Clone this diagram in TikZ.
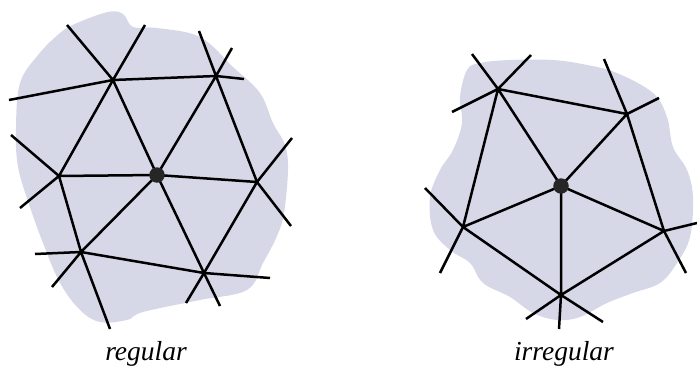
\documentclass[tikz,border=0pt]{standalone}
\usepackage{fontspec}
\setmainfont{Liberation Serif}
\definecolor{blob}{RGB}{214,216,232}
\begin{document}
\begin{tikzpicture}[x=1pt,y=-1pt,
  edge/.style={line width=2.5pt, line cap=butt},
  centre/.style={circle, fill=black!85, minimum size=15.5pt, inner sep=0pt},
  lbl/.style={font=\fontsize{27.5}{32}\selectfont\itshape, inner sep=0pt}]
\useasboundingbox (0,0) rectangle (697,372);
% blobs
\fill[blob] plot[smooth cycle, tension=0.6] coordinates {
 (60,33) (77,23) (108,12) (123,14) (133,27) (157,28) (200,37) (233,67)
 (260,93) (273,123) (285,145) (288,170) (284,213) (277,236) (263,263)
 (247,290) (200,300) (143,312) (127,320) (100,322) (80,310) (60,283)
 (43,243) (30,207) (18,167) (16,127) (20,83) (38,55)};
\fill[blob] plot[smooth cycle, tension=0.6] coordinates {
 (467,70) (480,63) (510,60) (553,60) (587,65) (617,73) (653,93) (667,117)
 (673,147) (687,170) (693,197) (690,237) (677,263) (660,283) (633,293)
 (607,303) (580,317) (557,320) (533,313) (510,297) (483,283) (470,263)
 (450,250) (433,230) (430,197) (440,170) (453,150) (462,123) (460,97)};
% regular mesh vertices
\coordinate (A) at (113,80);
\coordinate (B) at (216,76);
\coordinate (C) at (59,176);
\coordinate (D) at (157,175);
\coordinate (E) at (257,182);
\coordinate (F) at (81,252);
\coordinate (G) at (204,273);
% free ends
\coordinate (a1) at (67,25);
\coordinate (a2) at (145,25);
\coordinate (a3) at (9,100);
\coordinate (b1) at (199,31);
\coordinate (b2) at (232,48);
\coordinate (b3) at (244,79);
\coordinate (c1) at (11,135);
\coordinate (c2) at (20,208);
\coordinate (e1) at (292,138);
\coordinate (e2) at (291,226);
\coordinate (f1) at (35,254);
\coordinate (f2) at (52,287);
\coordinate (f3) at (110,329);
\coordinate (g1) at (186,303);
\coordinate (g2) at (220,306);
\coordinate (g3) at (270,278);
\draw[edge] (A)--(B) (A)--(C) (A)--(D) (B)--(D) (B)--(E) (C)--(D) (D)--(E)
  (C)--(F) (D)--(F) (D)--(G) (E)--(G) (F)--(G);
\draw[edge] (A)--(a1) (A)--(a2) (A)--(a3) (B)--(b1) (B)--(b2) (B)--(b3)
  (C)--(c1) (C)--(c2) (E)--(e1) (E)--(e2) (F)--(f1) (F)--(f2) (F)--(f3)
  (G)--(g1) (G)--(g2) (G)--(g3);
\node[centre] (Dn) at (D) {};
% irregular mesh vertices
\coordinate (P) at (498,89);
\coordinate (Q) at (627,114);
\coordinate (R) at (463,227);
\coordinate (S) at (561,186);
\coordinate (T) at (664,231);
\coordinate (U) at (561,295);
\coordinate (p1) at (472,54);
\coordinate (p2) at (531,55);
\coordinate (p3) at (452,112);
\coordinate (q1) at (604,59);
\coordinate (q2) at (659,98);
\coordinate (r1) at (425,188);
\coordinate (r2) at (440,273);
\coordinate (t1) at (697,223);
\coordinate (t2) at (686,273);
\coordinate (u1) at (526,319);
\coordinate (u2) at (559,329);
\coordinate (u3) at (603,322);
\draw[edge] (P)--(Q) (P)--(R) (P)--(S) (Q)--(S) (Q)--(T) (R)--(S) (S)--(T)
  (S)--(U) (R)--(U) (T)--(U);
\draw[edge] (P)--(p1) (P)--(p2) (P)--(p3) (Q)--(q1) (Q)--(q2) (R)--(r1)
  (R)--(r2) (T)--(t1) (T)--(t2) (U)--(u1) (U)--(u2) (U)--(u3);
\node[centre] (Sn) at (S) {};
% labels
\node[lbl, anchor=base] (lreg) at (146,360) {regular};
\node[lbl, anchor=base] (lirr) at (564,360) {irregular};
\end{tikzpicture}
\end{document}
